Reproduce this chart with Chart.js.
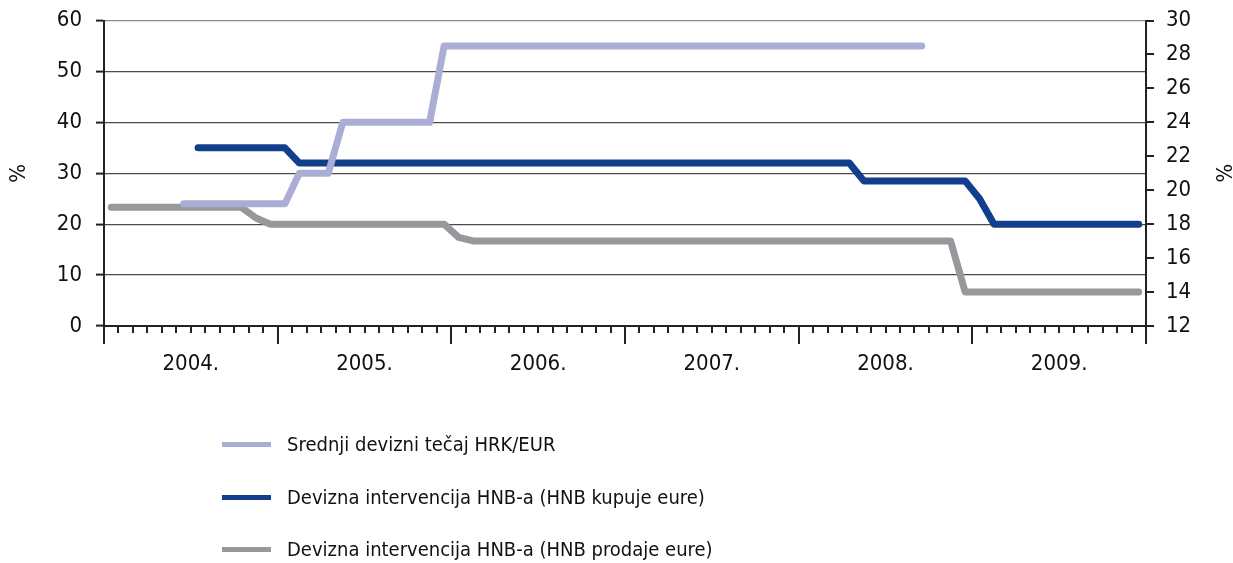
<!DOCTYPE html>
<html><head><meta charset="utf-8">
<script src="https://cdn.jsdelivr.net/npm/chart.js@4/dist/chart.umd.min.js"></script>
<style>
html,body{margin:0;padding:0;background:#fff;}
#wrap{position:relative;width:1233px;height:563px;overflow:hidden;}
#legend{position:absolute;left:222px;top:0;font-family:'Liberation Sans Narrow','DejaVu Sans Condensed',Arial,sans-serif;font-size:20px;color:#111;}
.item{position:absolute;left:0;height:24px;white-space:nowrap;display:flex;align-items:center;}
.sw{width:49px;height:5px;margin-right:16px;flex:none;}
</style></head>
<body><div id="wrap"><canvas id="c" width="1233" height="563"></canvas><div id="legend"></div></div>
<script>
const FONT = "'Liberation Sans Narrow','DejaVu Sans Condensed',Arial,sans-serif";

const months = [
 '2004-01','2004-02','2004-03','2004-04','2004-05','2004-06','2004-07','2004-08','2004-09','2004-10','2004-11','2004-12',
 '2005-01','2005-02','2005-03','2005-04','2005-05','2005-06','2005-07','2005-08','2005-09','2005-10','2005-11','2005-12',
 '2006-01','2006-02','2006-03','2006-04','2006-05','2006-06','2006-07','2006-08','2006-09','2006-10','2006-11','2006-12',
 '2007-01','2007-02','2007-03','2007-04','2007-05','2007-06','2007-07','2007-08','2007-09','2007-10','2007-11','2007-12',
 '2008-01','2008-02','2008-03','2008-04','2008-05','2008-06','2008-07','2008-08','2008-09','2008-10','2008-11','2008-12',
 '2009-01','2009-02','2009-03','2009-04','2009-05','2009-06','2009-07','2009-08','2009-09','2009-10','2009-11','2009-12'
];
const years = ['2004.','2005.','2006.','2007.','2008.','2009.'];

const srednjiTecaj = [
 null,null,null,null,null,24,24,24,24,24,24,24,
 24,30,30,30,40,40,40,40,40,40,40,55,
 55,55,55,55,55,55,55,55,55,55,55,55,
 55,55,55,55,55,55,55,55,55,55,55,55,
 55,55,55,55,55,55,55,55,55,null,null,null,
 null,null,null,null,null,null,null,null,null,null,null,null
];
const hnbKupuje = [
 null,null,null,null,null,null,35,35,35,35,35,35,
 35,32,32,32,32,32,32,32,32,32,32,32,
 32,32,32,32,32,32,32,32,32,32,32,32,
 32,32,32,32,32,32,32,32,32,32,32,32,
 32,32,32,32,28.5,28.5,28.5,28.5,28.5,28.5,28.5,28.5,
 25,20,20,20,20,20,20,20,20,20,20,20
];
const hnbProdaje = [
 23.3,23.3,23.3,23.3,23.3,23.3,23.3,23.3,23.3,23.3,21.2,20,
 20,20,20,20,20,20,20,20,20,20,20,20,
 17.4,16.7,16.7,16.7,16.7,16.7,16.7,16.7,16.7,16.7,16.7,16.7,
 16.7,16.7,16.7,16.7,16.7,16.7,16.7,16.7,16.7,16.7,16.7,16.7,
 16.7,16.7,16.7,16.7,16.7,16.7,16.7,16.7,16.7,16.7,16.7,6.7,
 6.7,6.7,6.7,6.7,6.7,6.7,6.7,6.7,6.7,6.7,6.7,6.7
];
const seriesNames = ['Srednji devizni tečaj HRK/EUR','Devizna intervencija HNB-a (HNB kupuje eure)','Devizna intervencija HNB-a (HNB prodaje eure)'];
const seriesColors = ['#aaaed4','#123f8c','#97989c'];

const mk = (i, data) => ({
  label: seriesNames[i], data, borderColor: seriesColors[i], backgroundColor: seriesColors[i],
  borderWidth: 7, pointRadius: 0, tension: 0, borderCapStyle: 'round', borderJoinStyle: 'round',
  spanGaps: false, xAxisID: 'x', yAxisID: 'y'
});

const tickFont = {family: FONT, size: 22};

const chart = new Chart(document.getElementById('c'), {
  type: 'line',
  data: { labels: months, datasets: [mk(0, srednjiTecaj), mk(1, hnbKupuje), mk(2, hnbProdaje)] },
  options: {
    responsive: false, animation: false,
    layout: { padding: { top: 20.5, left: 0, right: 0, bottom: 0 } },
    plugins: { legend: { display: false }, tooltip: { enabled: false } },
    scales: {
      x: {
        type: 'category', position: 'bottom', weight: 0, offset: true,
        ticks: { display: false, autoSkip: false },
        grid: { offset: true, drawOnChartArea: false, tickLength: 7, color: '#222', lineWidth: 2 },
        border: { display: true, color: '#222', width: 2 },
        afterFit: s => { s.height = 0; }
      },
      years: {
        type: 'category', position: 'bottom', weight: 1, offset: true, labels: years,
        ticks: { font: tickFont, color: '#111', padding: 7, maxRotation: 0, autoSkip: false },
        grid: { offset: true, drawOnChartArea: false, tickLength: 18, color: '#222', lineWidth: 2 },
        border: { display: false },
        afterFit: s => { s.height = 563 - 326; }
      },
      y: {
        position: 'left', min: 0, max: 60,
        ticks: { stepSize: 10, font: tickFont, color: '#111', padding: 14 },
        grid: { color: c => c.tick && c.tick.value === 60 ? '#8a8a8a' : '#4a4a4a', lineWidth: 1.2, tickLength: 8, tickColor: '#222', tickWidth: 2 },
        border: { display: true, color: '#222', width: 2 },
        title: { display: true, text: '%', font: {family: FONT, size: 22, lineHeight: 1}, color: '#111', padding: {top: 8, bottom: 0} },
        afterFit: s => { s.width = 104; s.paddingTop = 0; s.paddingBottom = 0; }
      },
      y1: {
        position: 'right', min: 12, max: 30,
        ticks: { stepSize: 2, font: tickFont, color: '#111', padding: 12 },
        grid: { drawOnChartArea: false, tickLength: 8, color: '#222', lineWidth: 2 },
        border: { display: true, color: '#222', width: 2 },
        title: { display: true, text: '%', font: {family: FONT, size: 22, lineHeight: 1}, color: '#111', padding: {top: 0, bottom: 0} },
        afterFit: s => { s.width = 1233 - 1146; s.paddingTop = 0; s.paddingBottom = 0; }
      }
    }
  }
});

// HTML legend built from the datasets
const legendRowsY = [444, 497, 549];
const lg = document.getElementById('legend');
chart.data.datasets.forEach((ds, i) => {
  const it = document.createElement('div');
  it.className = 'item';
  it.style.top = (legendRowsY[i] - 12) + 'px';
  const sw = document.createElement('span');
  sw.className = 'sw'; sw.style.background = ds.borderColor;
  const tx = document.createElement('span');
  tx.textContent = ds.label;
  it.appendChild(sw); it.appendChild(tx);
  lg.appendChild(it);
});
</script>
</body></html>
